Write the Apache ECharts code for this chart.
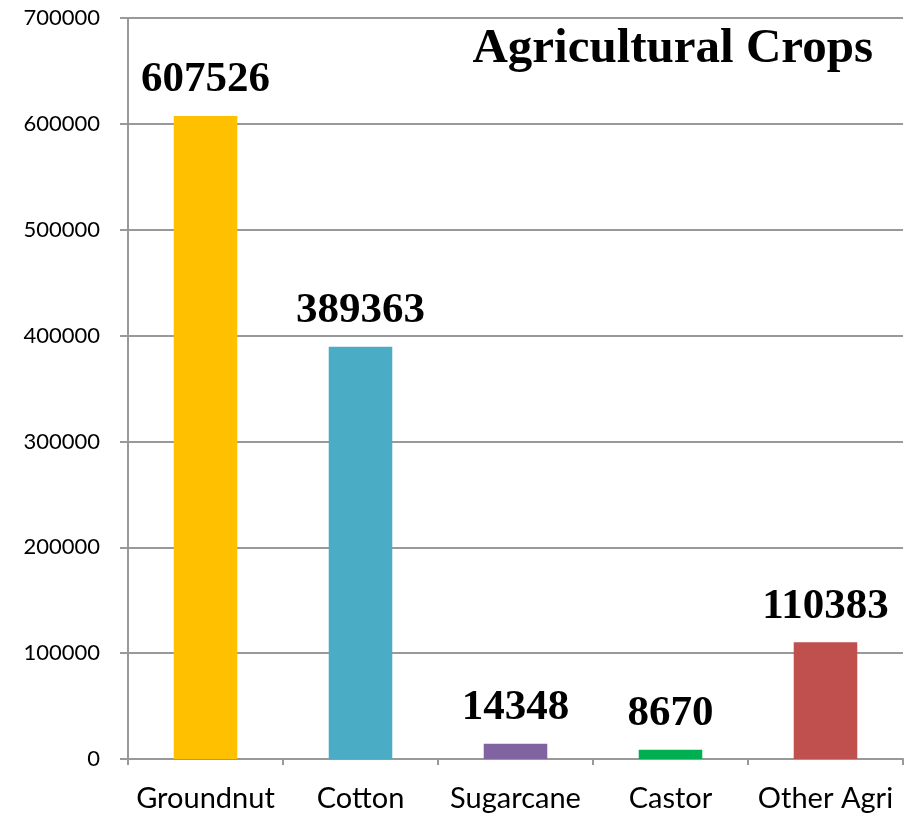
<!DOCTYPE html>
<html>
<head>
<meta charset="utf-8">
<script src="https://cdn.jsdelivr.net/npm/echarts@6/dist/echarts.min.js"></script>
<style>
html,body{margin:0;padding:0;background:#fff;}
#chart{width:905px;height:818px;}
</style>
</head>
<body>
<div id="chart"></div>
<script>
const categories = ['Groundnut', 'Cotton', 'Sugarcane', 'Castor', 'Other Agri'];
const values = [607526, 389363, 14348, 8670, 110383];
const barColors = ['#FFC000', '#4BACC6', '#8064A2', '#00B050', '#C0504D'];
const titleText = 'Agricultural Crops';

const chart = echarts.init(document.getElementById('chart'));
chart.setOption({
  animation: false,
  backgroundColor: '#ffffff',
  title: {
    text: titleText,
    right: 27,
    top: 20,
    textStyle: { fontFamily: 'Liberation Serif', fontWeight: 'bold', fontSize: 49, color: '#000' }
  },
  grid: { left: 128, right: 2, top: 18, bottom: 59, containLabel: false },
  xAxis: {
    type: 'category',
    data: categories,
    axisLine: { lineStyle: { color: '#999', width: 2 } },
    axisTick: { show: true, length: 6, lineStyle: { color: '#999', width: 2 } },
    axisLabel: { interval: 0, fontFamily: 'Lato', fontSize: 29, color: '#000', margin: 25 }
  },
  yAxis: {
    type: 'value',
    min: 0,
    max: 700000,
    interval: 100000,
    axisLine: { show: true, lineStyle: { color: '#999', width: 2 } },
    axisTick: { show: true, length: 8, lineStyle: { color: '#999', width: 2 } },
    splitLine: { lineStyle: { color: '#999', width: 2 } },
    axisLabel: { fontFamily: 'Lato', fontSize: 22, color: '#000', margin: 28, formatter: v => String(v) }
  },
  series: [{
    type: 'bar',
    data: values.map((v, i) => ({ value: v, itemStyle: { color: barColors[i] } })),
    barWidth: '41%',
    label: {
      show: true,
      position: 'top',
      distance: 14,
      fontFamily: 'Liberation Serif',
      fontWeight: 'bold',
      fontSize: 43,
      color: '#000'
    }
  }]
});
</script>
</body>
</html>
